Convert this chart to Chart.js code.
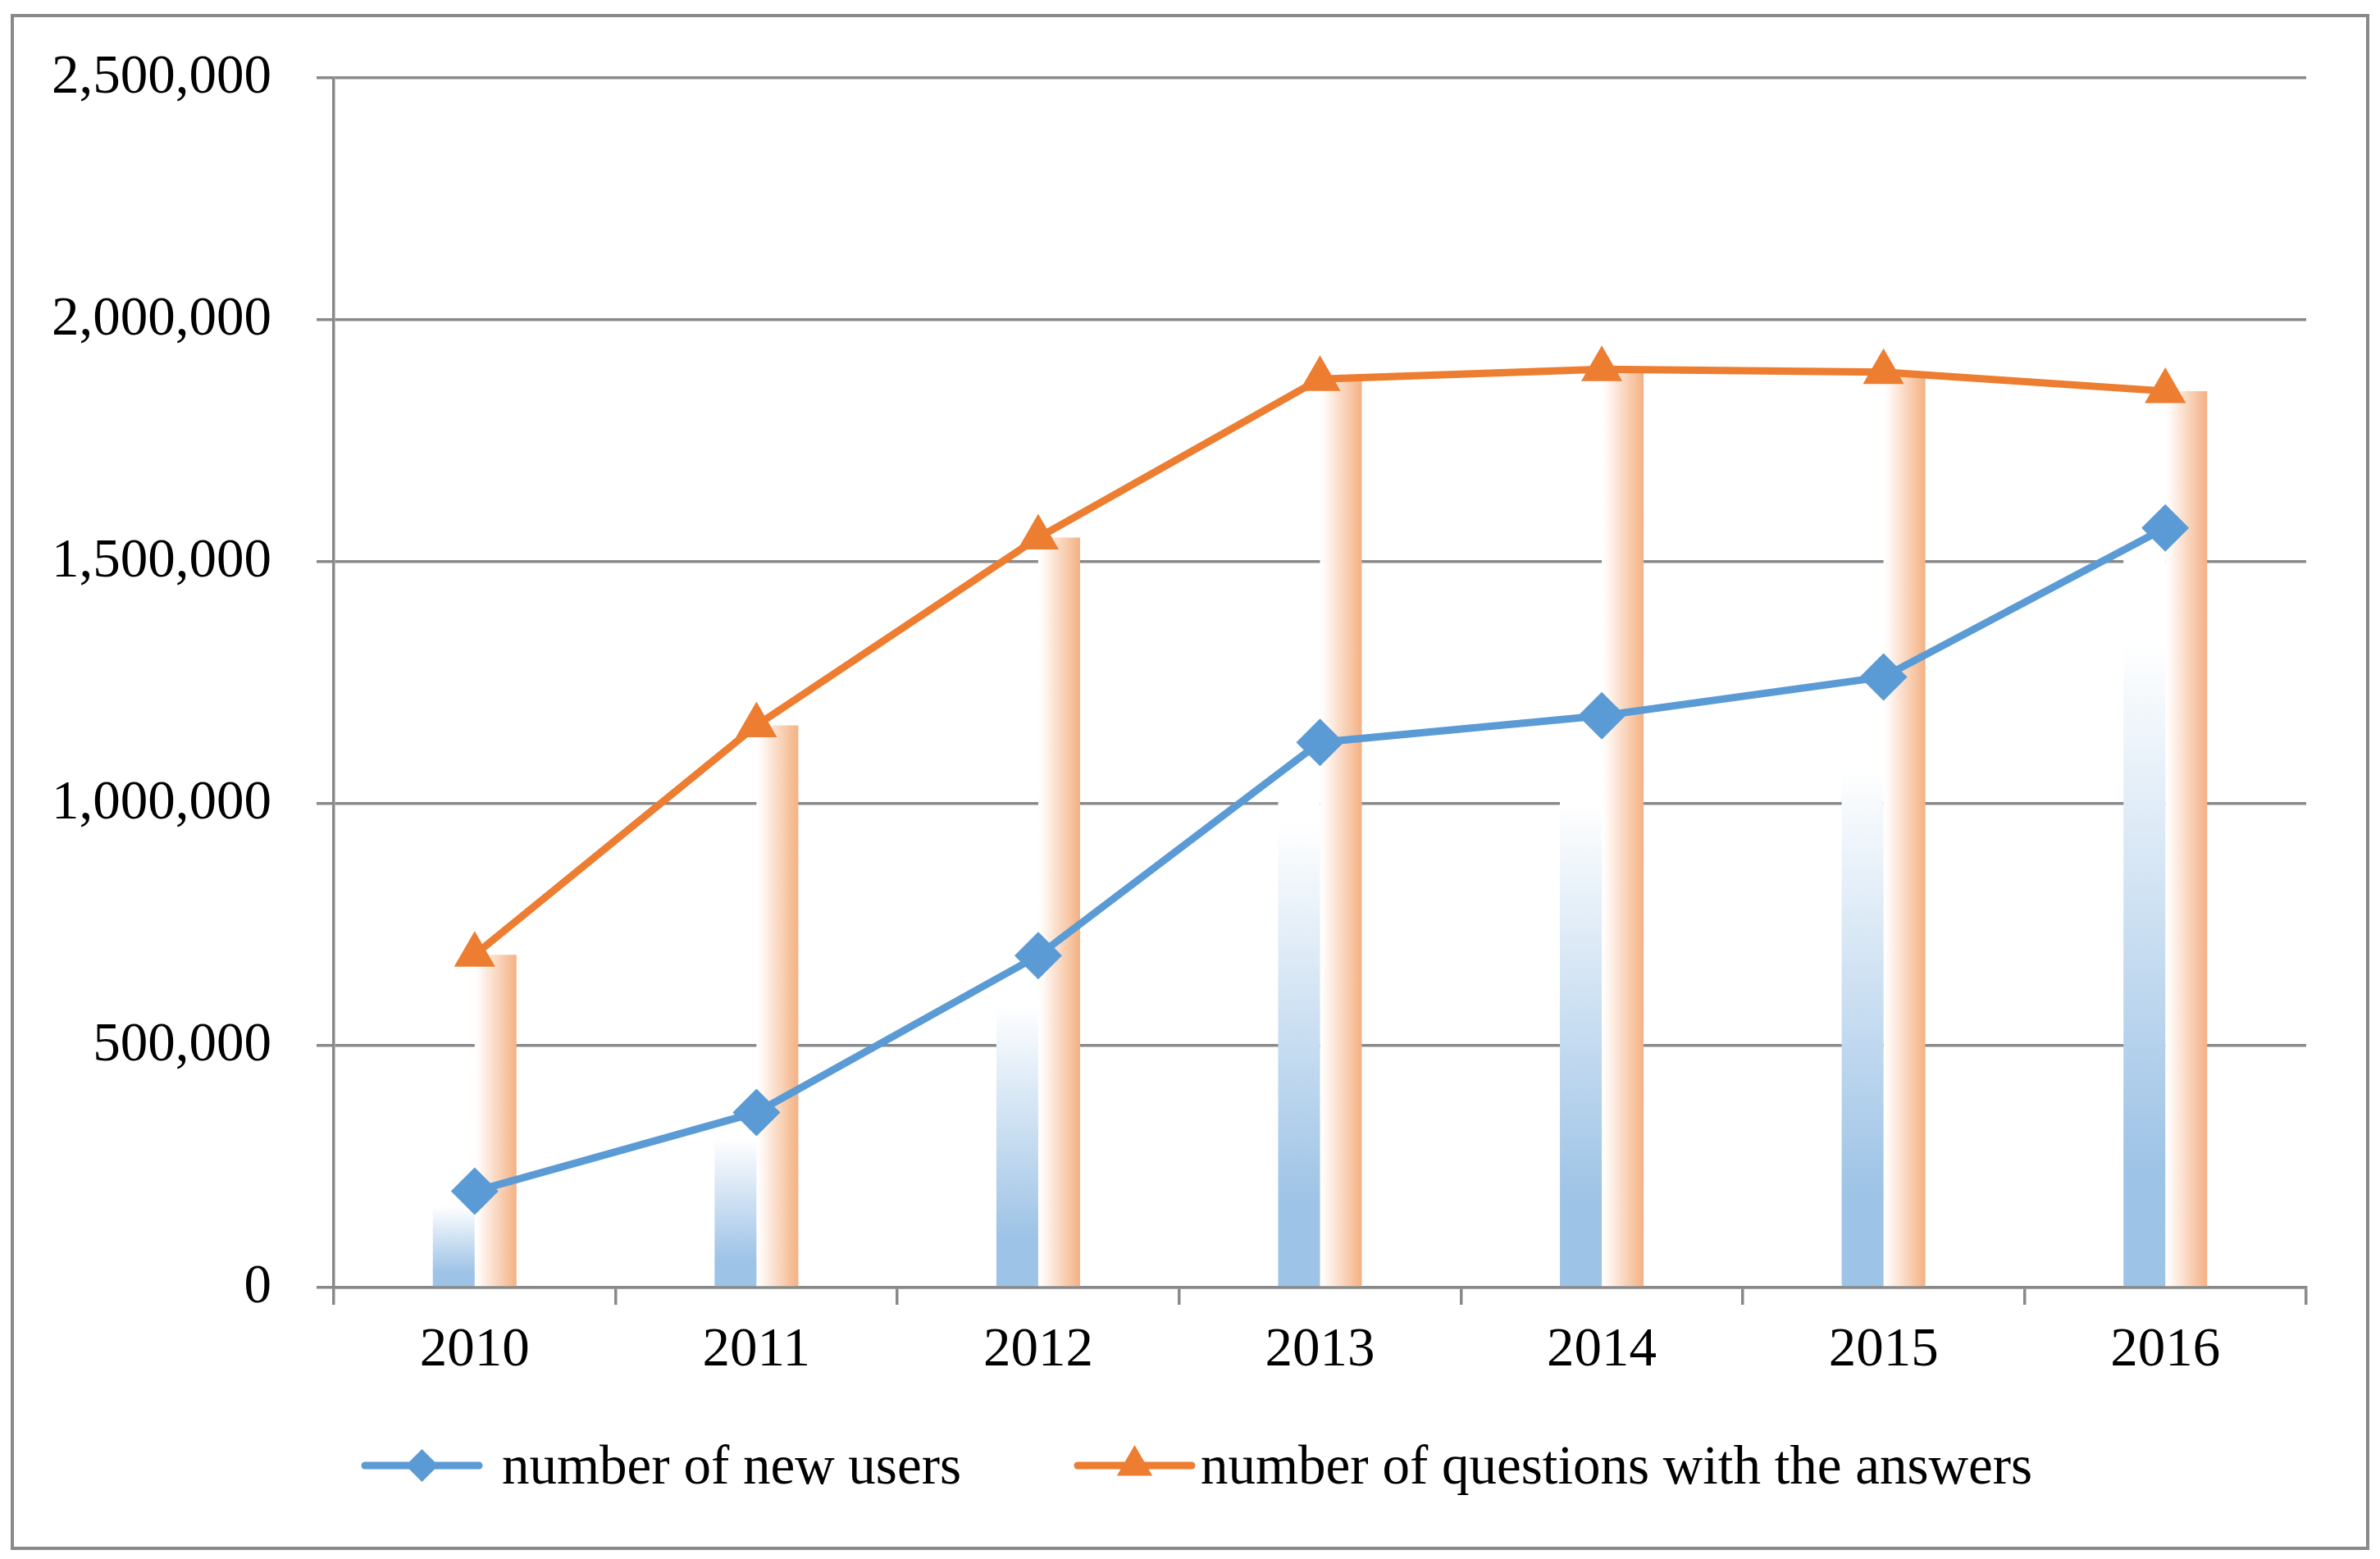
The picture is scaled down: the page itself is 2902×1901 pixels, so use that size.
<!DOCTYPE html>
<html>
<head>
<meta charset="utf-8">
<title>New users and answered questions, 2010-2016</title>
<script src="https://cdn.jsdelivr.net/npm/chart.js@4/dist/chart.umd.min.js"></script>
<style>
    html, body { margin: 0; padding: 0; background: #ffffff; }
    canvas { display: block; }
</style>
</head>
<body>
<canvas id="usersChart" width="2902" height="1901"></canvas>
<script>
var years = ['2010', '2011', '2012', '2013', '2014', '2015', '2016'];
var newUsers = [199000, 362000, 686000, 1127000, 1182000, 1262000, 1570000];
var answeredQuestions = [688000, 1162000, 1550000, 1878000, 1898000, 1892000, 1853000];
var yTicks = [0, 500000, 1000000, 1500000, 2000000, 2500000];
var seriesNames = ['number of new users', 'number of questions with the answers'];

var BLUE = '#5b9bd5';
var ORANGE = '#ed7d31';
var GRID = '#898989';
var FONT = { family: '"Liberation Serif", "Times New Roman", serif', size: 67 };
var barShare = 0.297; // both bars together take this much of a category

document.addEventListener("DOMContentLoaded", function () {
    var ctx = document.getElementById('usersChart').getContext('2d');

    // blue bars fade from white at the top to light blue at the base
    function blueBarFill(context) {
        var chart = context.chart;
        if (!chart.chartArea) return '#9dc3e6';
        var y = chart.scales.y;
        var top = y.getPixelForValue(context.raw);
        var base = y.getPixelForValue(0);
        var g = chart.ctx.createLinearGradient(0, top, 0, base);
        g.addColorStop(0, '#ffffff');
        g.addColorStop(0.15, '#ffffff');
        g.addColorStop(0.85, '#9dc3e6');
        g.addColorStop(1, '#9dc3e6');
        return g;
    }

    // orange bars fade from white on the left to light orange on the right
    function orangeBarFill(context) {
        var chart = context.chart;
        if (!chart.chartArea) return '#f4b183';
        var x = chart.scales.x;
        var centre = x.getPixelForValue(context.dataIndex);
        var w = (x.width / years.length) * barShare / 2;
        var g = chart.ctx.createLinearGradient(centre, 0, centre + w, 0);
        g.addColorStop(0, '#ffffff');
        g.addColorStop(0.1, '#fffaf7');
        g.addColorStop(1, '#f4b183');
        return g;
    }

    // white page with a grey frame round the whole chart
    var frame = {
        id: 'frame',
        beforeDraw: function (chart) {
            var c = chart.ctx;
            c.save();
            c.fillStyle = '#ffffff';
            c.fillRect(0, 0, chart.width, chart.height);
            c.strokeStyle = GRID;
            c.lineWidth = 4;
            c.strokeRect(15, 19, 2872, 1869);
            c.restore();
        }
    };

    // legend with a short line and a (smaller) marker on it, as in the original
    var legendSlots = [
        { lineX: 445, textX: 612, radius: 20 },
        { lineX: 1314, textX: 1464, radius: 25 }
    ];
    var lineLegend = {
        id: 'lineLegend',
        afterDraw: function (chart) {
            var c = chart.ctx;
            var y = 1787, sample = 139;
            c.save();
            c.font = FONT.size + 'px ' + FONT.family;
            c.textBaseline = 'middle';
            c.lineCap = 'round';
            var i = 0;
            chart.data.datasets.forEach(function (ds) {
                if (ds.type !== 'line') return;
                var slot = legendSlots[i++];
                c.strokeStyle = ds.borderColor;
                c.lineWidth = ds.borderWidth;
                c.beginPath();
                c.moveTo(slot.lineX, y);
                c.lineTo(slot.lineX + sample, y);
                c.stroke();
                c.fillStyle = ds.pointBackgroundColor;
                Chart.helpers.drawPoint(c, {
                    pointStyle: ds.pointStyle,
                    radius: slot.radius,
                    rotation: 0,
                    borderWidth: 0
                }, slot.lineX + sample / 2, y);
                c.fillStyle = '#000000';
                c.fillText(ds.label, slot.textX, y + 4);
            });
            c.restore();
        }
    };

    var chart = new Chart(ctx, {
        data: {
            labels: years,
            datasets: [
                {
                    type: 'line',
                    label: seriesNames[0],
                    data: newUsers,
                    borderColor: BLUE,
                    borderWidth: 9,
                    pointStyle: 'rectRot',
                    pointRadius: 29,
                    pointBackgroundColor: BLUE,
                    pointBorderWidth: 0,
                    tension: 0,
                    fill: false,
                    order: 0
                },
                {
                    type: 'line',
                    label: seriesNames[1],
                    data: answeredQuestions,
                    borderColor: ORANGE,
                    borderWidth: 9,
                    pointStyle: 'triangle',
                    pointRadius: 29,
                    pointBackgroundColor: ORANGE,
                    pointBorderWidth: 0,
                    tension: 0,
                    fill: false,
                    order: 0
                },
                {
                    type: 'bar',
                    label: seriesNames[0] + ' (bar)',
                    data: newUsers,
                    backgroundColor: blueBarFill,
                    borderWidth: 0,
                    categoryPercentage: barShare,
                    barPercentage: 1,
                    order: 1
                },
                {
                    type: 'bar',
                    label: seriesNames[1] + ' (bar)',
                    data: answeredQuestions,
                    backgroundColor: orangeBarFill,
                    borderWidth: 0,
                    categoryPercentage: barShare,
                    barPercentage: 1,
                    order: 1
                }
            ]
        },
        options: {
            responsive: false,
            devicePixelRatio: 1,
            animation: false,
            layout: {
                padding: { left: 0, right: 90, top: 91, bottom: 181 }
            },
            scales: {
                x: {
                    offset: true,
                    afterFit: function (scale) { scale.height = 150; },
                    grid: {
                        offset: true,
                        drawOnChartArea: false,
                        drawTicks: true,
                        tickLength: 21,
                        color: GRID,
                        lineWidth: 3.5
                    },
                    border: { display: true, color: GRID, width: 3.5 },
                    ticks: {
                        color: '#000000',
                        font: FONT,
                        padding: 16,
                        maxRotation: 0
                    }
                },
                y: {
                    min: 0,
                    max: 2500000,
                    afterFit: function (scale) { scale.width = 407; },
                    afterBuildTicks: function (scale) {
                        scale.ticks = yTicks.map(function (v) { return { value: v }; });
                    },
                    grid: {
                        color: GRID,
                        lineWidth: 3.5,
                        tickLength: 21
                    },
                    border: { display: true, color: GRID, width: 3.5 },
                    ticks: {
                        color: '#000000',
                        font: FONT,
                        padding: 55,
                        callback: function (value) {
                            return value.toLocaleString('en-US');
                        }
                    }
                }
            },
            plugins: {
                legend: { display: false },
                tooltip: { enabled: false }
            }
        },
        plugins: [frame, lineLegend]
    });
});
</script>
</body>
</html>
